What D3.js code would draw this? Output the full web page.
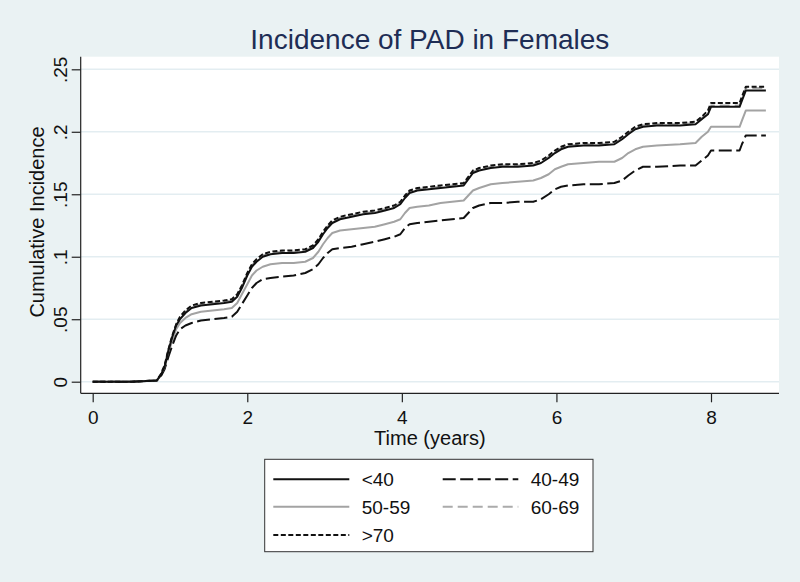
<!DOCTYPE html>
<html>
<head>
<meta charset="utf-8">
<script src="https://cdn.jsdelivr.net/npm/d3@7"></script>
<style>
  html, body { margin: 0; padding: 0; background: #eaf2f3; }
  svg { display: block; }
  text { font-family: "Liberation Sans", Arial, Helvetica, sans-serif; }
</style>
</head>
<body>
<svg id="chart" width="800" height="582"></svg>
<script>
// ---------------- DATA ----------------
const chartTitle = "Incidence of PAD in Females";
const xTitle = "Time (years)";
const yTitle = "Cumulative Incidence";

const xTicks = [0, 2, 4, 6, 8];
const xTickLabels = ["0", "2", "4", "6", "8"];
const yTicks = [0, 0.05, 0.1, 0.15, 0.2, 0.25];
const yTickLabels = ["0", ".05", ".1", ".15", ".2", ".25"];

const seriesNames = ["<40", "40-49", "50-59", "60-69", ">70"];

const times = [0, 0.5, 0.83, 0.88, 0.93, 0.98, 1.03, 1.08, 1.13, 1.2, 1.28, 1.4, 1.55, 1.7, 1.8, 1.87, 1.93, 2.0, 2.06, 2.12, 2.2, 2.3, 2.45, 2.6, 2.75, 2.85, 2.92, 2.98, 3.04, 3.1, 3.2, 3.35, 3.5, 3.65, 3.78, 3.9, 3.98, 4.04, 4.1, 4.2, 4.35, 4.5, 4.65, 4.8, 4.86, 4.92, 5.0, 5.15, 5.3, 5.5, 5.7, 5.8, 5.9, 5.98, 6.06, 6.15, 6.35, 6.55, 6.75, 6.85, 6.93, 7.02, 7.12, 7.3, 7.6, 7.8, 7.88, 7.96, 8.0, 8.37, 8.4, 8.45, 8.71];

const lt40 = [0, 0, 0.001, 0.005, 0.012, 0.025, 0.036, 0.045, 0.050, 0.055, 0.059, 0.061, 0.062, 0.063, 0.064, 0.068, 0.075, 0.085, 0.092, 0.096, 0.100, 0.102, 0.103, 0.103, 0.104, 0.107, 0.112, 0.118, 0.123, 0.127, 0.130, 0.132, 0.134, 0.135, 0.137, 0.139, 0.142, 0.147, 0.151, 0.153, 0.154, 0.155, 0.156, 0.157, 0.162, 0.167, 0.169, 0.171, 0.172, 0.172, 0.173, 0.175, 0.179, 0.183, 0.186, 0.188, 0.189, 0.189, 0.190, 0.194, 0.198, 0.202, 0.204, 0.205, 0.205, 0.206, 0.210, 0.214, 0.220, 0.220, 0.225, 0.233, 0.233];

const a4049 = [0, 0, 0.001, 0.004, 0.010, 0.020, 0.029, 0.037, 0.042, 0.045, 0.047, 0.049, 0.050, 0.051, 0.052, 0.056, 0.062, 0.069, 0.075, 0.079, 0.082, 0.083, 0.084, 0.085, 0.087, 0.090, 0.094, 0.099, 0.103, 0.106, 0.107, 0.108, 0.110, 0.112, 0.114, 0.116, 0.118, 0.123, 0.126, 0.127, 0.128, 0.129, 0.130, 0.131, 0.135, 0.139, 0.141, 0.143, 0.143, 0.144, 0.144, 0.146, 0.150, 0.154, 0.156, 0.157, 0.158, 0.158, 0.159, 0.161, 0.165, 0.169, 0.172, 0.172, 0.173, 0.173, 0.177, 0.181, 0.185, 0.185, 0.190, 0.197, 0.197];

const a5059 = [0, 0, 0.001, 0.005, 0.011, 0.023, 0.033, 0.042, 0.047, 0.051, 0.054, 0.056, 0.057, 0.058, 0.059, 0.063, 0.070, 0.078, 0.085, 0.089, 0.092, 0.094, 0.095, 0.095, 0.096, 0.099, 0.104, 0.110, 0.115, 0.119, 0.121, 0.122, 0.123, 0.124, 0.126, 0.128, 0.130, 0.135, 0.139, 0.140, 0.141, 0.143, 0.144, 0.145, 0.149, 0.153, 0.155, 0.158, 0.159, 0.160, 0.161, 0.163, 0.166, 0.170, 0.172, 0.174, 0.175, 0.176, 0.176, 0.179, 0.183, 0.186, 0.188, 0.189, 0.190, 0.191, 0.196, 0.200, 0.204, 0.204, 0.209, 0.217, 0.217];

const a6069 = [0, 0, 0.001, 0.005, 0.012, 0.025, 0.036, 0.045, 0.051, 0.056, 0.060, 0.062, 0.063, 0.064, 0.065, 0.069, 0.076, 0.086, 0.093, 0.097, 0.101, 0.103, 0.104, 0.104, 0.105, 0.108, 0.113, 0.119, 0.124, 0.128, 0.131, 0.133, 0.135, 0.136, 0.138, 0.140, 0.143, 0.148, 0.152, 0.154, 0.155, 0.156, 0.157, 0.158, 0.163, 0.168, 0.170, 0.172, 0.173, 0.173, 0.174, 0.176, 0.180, 0.184, 0.187, 0.189, 0.190, 0.190, 0.191, 0.195, 0.199, 0.203, 0.205, 0.206, 0.206, 0.207, 0.211, 0.215, 0.221, 0.221, 0.226, 0.235, 0.235];

const gt70 = [0, 0, 0.001, 0.006, 0.013, 0.026, 0.037, 0.046, 0.052, 0.057, 0.061, 0.063, 0.064, 0.065, 0.066, 0.070, 0.077, 0.087, 0.094, 0.098, 0.102, 0.104, 0.105, 0.105, 0.106, 0.109, 0.114, 0.120, 0.125, 0.129, 0.132, 0.134, 0.136, 0.137, 0.139, 0.141, 0.144, 0.149, 0.153, 0.155, 0.156, 0.157, 0.158, 0.159, 0.164, 0.169, 0.171, 0.173, 0.174, 0.174, 0.175, 0.177, 0.181, 0.185, 0.188, 0.190, 0.191, 0.191, 0.192, 0.196, 0.200, 0.204, 0.206, 0.207, 0.207, 0.208, 0.212, 0.217, 0.223, 0.223, 0.228, 0.236, 0.236];

// ---------------- LAYOUT / STYLE ----------------
const plotLeft = 80.7, plotRight = 779, plotTop = 56.7, plotBottom = 393.3;

const styles = {
  "<40":   { color: "#111111", width: 2.0, dash: null },
  "40-49": { color: "#111111", width: 2.0, dash: "13,4.5" },
  "50-59": { color: "#a3a3a3", width: 2.0, dash: null },
  "60-69": { color: "#ababab", width: 2.0, dash: "10,5" },
  ">70":   { color: "#111111", width: 2.0, dash: "5,2.5" }
};

const seriesValues = { "<40": lt40, "40-49": a4049, "50-59": a5059, "60-69": a6069, ">70": gt70 };

const svg = d3.select("#chart");

// background
svg.append("rect").attr("x", 0).attr("y", 0).attr("width", 800).attr("height", 582).attr("fill", "#eaf2f3");
svg.append("rect").attr("x", plotLeft).attr("y", plotTop)
  .attr("width", plotRight - plotLeft).attr("height", plotBottom - plotTop).attr("fill", "#ffffff");

const x = d3.scaleLinear().domain([0, 8]).range([92.7, 711]);
const y = d3.scaleLinear().domain([0, 0.25]).range([381.7, 69.3]);

// gridlines
svg.append("g").selectAll("line").data(yTicks).join("line")
  .attr("x1", plotLeft).attr("x2", plotRight)
  .attr("y1", d => y(d)).attr("y2", d => y(d))
  .attr("stroke", "#e3edf1").attr("stroke-width", 1.5);

// curves
const line = d3.line()
  .x(d => x(d[0]))
  .y(d => y(d[1]))
  .curve(d3.curveLinear);

const drawOrder = ["50-59", "40-49", "60-69", "<40", ">70"];
drawOrder.forEach(name => {
  const vals = seriesValues[name];
  const pts = times.map((t, i) => [t, vals[i]]);
  const st = styles[name];
  svg.append("path")
    .attr("d", line(pts))
    .attr("fill", "none")
    .attr("stroke", st.color)
    .attr("stroke-width", st.width)
    .attr("stroke-dasharray", st.dash)
    .attr("stroke-linejoin", "round");
});

// axes
const yAxis = d3.axisLeft(y).tickValues(yTicks).tickSize(9).tickSizeOuter(0)
  .tickFormat((d, i) => yTickLabels[i]);
const gy = svg.append("g").attr("transform", `translate(${plotLeft},0)`).call(yAxis);
gy.select(".domain").remove();
gy.selectAll(".tick line").attr("stroke", "#222").attr("stroke-width", 1.2);
gy.selectAll(".tick text")
  .attr("transform", "rotate(-90)")
  .attr("x", 0).attr("y", -14).attr("dy", 0)
  .attr("text-anchor", "middle")
  .attr("fill", "#111")
  .style("font-size", "19px");

const xAxis = d3.axisBottom(x).tickValues(xTicks).tickSize(9).tickSizeOuter(0)
  .tickFormat((d, i) => xTickLabels[i]);
const gx = svg.append("g").attr("transform", `translate(0,${plotBottom})`).call(xAxis);
gx.select(".domain").remove();
gx.selectAll(".tick line").attr("stroke", "#222").attr("stroke-width", 1.2);
gx.selectAll(".tick text")
  .attr("y", 0).attr("dy", 0)
  .attr("transform", "translate(0,31)")
  .attr("fill", "#111")
  .style("font-size", "19px");

// axis lines
svg.append("line").attr("x1", plotLeft).attr("x2", plotLeft).attr("y1", plotTop).attr("y2", plotBottom)
  .attr("stroke", "#222").attr("stroke-width", 1.2);
svg.append("line").attr("x1", plotLeft).attr("x2", plotRight).attr("y1", plotBottom).attr("y2", plotBottom)
  .attr("stroke", "#222").attr("stroke-width", 1.2);

// titles
svg.append("text").attr("x", (plotLeft + plotRight) / 2).attr("y", 49)
  .attr("text-anchor", "middle").attr("fill", "#1e2d55")
  .style("font-size", "28px").text(chartTitle);

svg.append("text").attr("x", (plotLeft + plotRight) / 2).attr("y", 445)
  .attr("text-anchor", "middle").attr("fill", "#111")
  .style("font-size", "20px").text(xTitle);

svg.append("text")
  .attr("transform", `translate(44,${(plotTop + plotBottom) / 2 - 3}) rotate(-90)`)
  .attr("text-anchor", "middle").attr("fill", "#111")
  .style("font-size", "20px").text(yTitle);

// legend
const leg = svg.append("g");
leg.append("rect").attr("x", 264.7).attr("y", 459.3).attr("width", 328.3).attr("height", 92.4)
  .attr("fill", "#ffffff").attr("stroke", "#333").attr("stroke-width", 1);

const legendPos = {
  "<40":   { col: 0, row: 0 },
  "40-49": { col: 1, row: 0 },
  "50-59": { col: 0, row: 1 },
  "60-69": { col: 1, row: 1 },
  ">70":   { col: 0, row: 2 }
};
const colLineX = [[273.3, 349.3], [442.7, 518.3]];
const colTextX = [361.7, 530.7];
const rowY = [479.3, 506.8, 535];

seriesNames.forEach(name => {
  const p = legendPos[name];
  const st = styles[name];
  const yy = rowY[p.row];
  leg.append("line")
    .attr("x1", colLineX[p.col][0]).attr("x2", colLineX[p.col][1])
    .attr("y1", yy).attr("y2", yy)
    .attr("stroke", st.color).attr("stroke-width", st.width)
    .attr("stroke-dasharray", st.dash);
  leg.append("text").attr("x", colTextX[p.col]).attr("y", yy + 6.8)
    .attr("fill", "#111").style("font-size", "19px").text(name);
});
</script>
</body>
</html>
